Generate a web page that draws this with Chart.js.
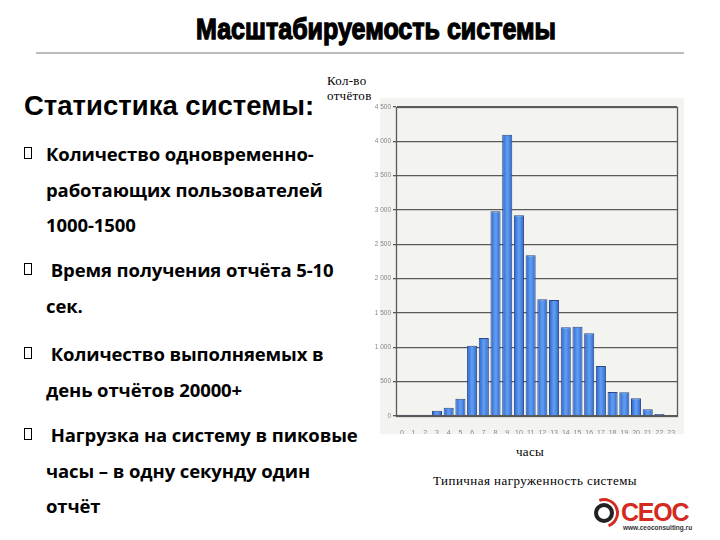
<!DOCTYPE html>
<html>
<head>
<meta charset="utf-8">
<script src="https://cdn.jsdelivr.net/npm/chart.js@4"></script>
<style>
  body { margin: 0; width: 720px; height: 540px; background: #fff; position: relative; overflow: hidden; font-family: "Liberation Sans", Arial, sans-serif; }
  .abs { position: absolute; }
  #title { left: 0; width: 752px; top: 12px; text-align: center; font-family: "Liberation Sans Narrow", "Liberation Sans", sans-serif; font-weight: bold; font-size: 30px; color: #000; transform: scaleX(0.835); transform-origin: 376px 0; -webkit-text-stroke: 1.3px #000; }
  #rule { left: 36px; top: 52px; width: 648px; height: 2px; background: #bdbdbd; }
  #head { left: 24px; top: 90px; font-size: 27.5px; font-weight: bold; color: #000; }
  .li { left: 24px; font-family: "Open Sans", sans-serif; font-weight: bold; font-size: 18.5px; color: #000; line-height: 35.5px; letter-spacing: -0.1px; }
  .li .b { position: absolute; left: 0; top: 11px; width: 8px; height: 12px; border: 1.5px solid #000; box-sizing: border-box; }
  .li div { padding-left: 22px; }
  .serif { font-family: "Liberation Serif", "DejaVu Serif", serif; font-size: 13px; color: #000; letter-spacing: 0.3px; }
  #panel { left: 380px; top: 98px; width: 304px; height: 336px; background: #f3f3ef; }
  #wrap { left: 366px; top: 98px; width: 318px; height: 336px; }
  #logo { left: 590px; top: 498px; width: 110px; height: 36px; }
</style>
</head>
<body>
<div id="title" class="abs">Масштабируемость системы</div>
<div id="rule" class="abs"></div>
<div id="head" class="abs">Статистика системы:</div>

<div class="abs li" style="top:136px"><span class="b"></span><div>Количество одновременно-<br>работающих пользователей<br>1000-1500</div></div>
<div class="abs li" style="top:252px"><span class="b"></span><div>&nbsp;Время получения отчёта 5-10<br>сек.</div></div>
<div class="abs li" style="top:336px"><span class="b"></span><div>&nbsp;Количество выполняемых в<br>день отчётов 20000+</div></div>
<div class="abs li" style="top:417px"><span class="b"></span><div>&nbsp;Нагрузка на систему в пиковые<br>часы – в одну секунду один<br>отчёт</div></div>

<div class="abs serif" style="left:327px; top:73px; line-height:15px;">Кол-во<br>отчётов</div>
<div class="abs serif" style="left:516px; top:444px;">часы</div>
<div class="abs serif" style="left:433px; top:473px; letter-spacing:0.45px;">Типичная нагруженность системы</div>

<div id="panel" class="abs"></div>
<div id="wrap" class="abs"><canvas id="chart" width="318" height="336"></canvas></div>

<div id="logo" class="abs">
  <div class="abs" style="left:4px; top:5px; width:20px; height:20px; border:4px solid #222; border-radius:50%; box-sizing:border-box;"></div>
  <div class="abs" style="left:-1px; top:0px; width:30px; height:30px; border:3px solid transparent; border-top-color:#d42a20; border-right-color:#d42a20; border-radius:50%; transform:rotate(25deg); box-sizing:border-box;"></div>
  <div class="abs" style="left:31px; top:0px; font-family:'Liberation Sans'; font-weight:bold; font-size:25px; color:#d42a20; letter-spacing:-1.2px;">CEOC</div>
  <div class="abs" style="left:33px; top:26px; font-family:'Liberation Sans'; font-weight:bold; font-size:6.5px; color:#333;">www.ceoconsulting.ru</div>
</div>

<script>
const hours = ["0","1","2","3","4","5","6","7","8","9","10","11","12","13","14","15","16","17","18","19","20","21","22","23"];
const reports = [20, 20, 20, 78, 121, 252, 1024, 1136, 2981, 4097, 2922, 2340, 1699, 1689, 1291, 1301, 1204, 728, 350, 345, 257, 97, 29, 10];
const yMax = 4500;
const yStep = 500;

function fmt(v) {
    if (v < 1000) return String(v);
    return Math.floor(v / 1000) + " " + String(v % 1000).padStart(3, "0");
}

// horizontal shading of each bar: darker edges, lighter middle
function barFill(c) {
    const xs = c.chart.scales.x;
    const cx = xs && c.dataIndex !== undefined ? xs.getPixelForValue(c.dataIndex) : NaN;
    if (!Number.isFinite(cx)) return "#3f7fe2";
    const half = 5;
    const g = c.chart.ctx.createLinearGradient(cx - half, 0, cx + half, 0);
    g.addColorStop(0, "#2a60c6");
    g.addColorStop(0.45, "#5d9cf2");
    g.addColorStop(0.6, "#5a98ef");
    g.addColorStop(1, "#2b5fc2");
    return g;
}

// frame around the plot area
const frame = {
    id: "frame",
    beforeDatasetsDraw(chart) {
        const a = chart.chartArea;
        const ctx = chart.ctx;
        ctx.save();
        ctx.strokeStyle = "#5a5a5a";
        ctx.lineWidth = 1.3;
        ctx.strokeRect(Math.round(a.left) + 0.5, Math.round(a.top) + 0.5, Math.round(a.right - a.left), Math.round(a.bottom - a.top));
        ctx.restore();
    }
};

const ctx = document.getElementById("chart").getContext("2d");
new Chart(ctx, {
    type: "bar",
    data: {
        labels: hours,
        datasets: [{
            data: reports,
            backgroundColor: barFill,
            borderColor: "#2a4a8c",
            borderWidth: 1,
            barPercentage: 0.86,
            categoryPercentage: 1
        }]
    },
    options: {
        responsive: false,
        animation: false,
        events: [],
        layout: { padding: { top: 9, right: 7, left: 0, bottom: 0 } },
        plugins: { legend: { display: false }, tooltip: { enabled: false } },
        scales: {
            x: {
                grid: { display: false },
                border: { color: "#5a5a5a" },
                ticks: { color: "#888", font: { family: "Liberation Sans", size: 7 }, maxRotation: 0, autoSkip: false, padding: 5 },
                afterFit: (s) => { s.height = 18; }
            },
            y: {
                min: 0,
                max: yMax,
                grid: { color: "#5a5a5a", lineWidth: 1.3, tickLength: 3 },
                border: { color: "#5a5a5a" },
                ticks: { stepSize: yStep, color: "#888", font: { family: "Liberation Sans", size: 6.5 }, padding: 2, callback: (v) => fmt(v) },
                afterFit: (s) => { s.width = 30; }
            }
        }
    },
    plugins: [frame]
});
</script>
</body>
</html>
